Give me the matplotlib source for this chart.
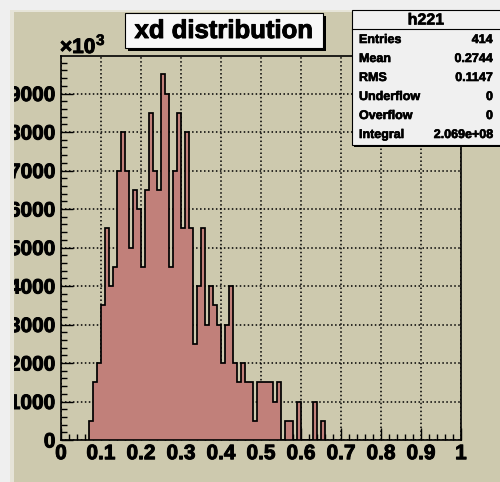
import numpy as np
import matplotlib
matplotlib.use("Agg")
import matplotlib.pyplot as plt
import matplotlib.patheffects as pe
from matplotlib.patches import Rectangle
from matplotlib.lines import Line2D
from matplotlib.ticker import MultipleLocator, FixedLocator, FixedFormatter

# h221 contents in units of 10^3, 0.01 wide bins starting at xd = 0.07
first_edge = 0.07
bin_width = 0.01
contents = [
    500, 1500, 2000, 3500, 5500, 4000, 4500, 7000, 8000, 7000,   # 0.07 - 0.16
    5000, 6500, 6000, 4500, 6500, 8500, 7000, 6500, 9500, 9000,  # 0.17 - 0.26
    4500, 7000, 8500, 5500, 8000, 5500, 2500, 4000, 5500, 3000,  # 0.27 - 0.36
    4000, 3500, 3000, 2000, 3000, 4000, 2000, 1500, 2000, 1500,  # 0.37 - 0.46
    1500, 500, 1500, 1500, 1500, 1500, 1000, 1500, 0, 500,       # 0.47 - 0.56
    500, 0, 1000, 0, 0, 0, 1000, 0, 500,                         # 0.57 - 0.65
]

x_ticks = [0, 0.1, 0.2, 0.3, 0.4, 0.5, 0.6, 0.7, 0.8, 0.9, 1.0]
x_tick_labels = ["0", "0.1", "0.2", "0.3", "0.4", "0.5", "0.6", "0.7", "0.8", "0.9", "1"]
y_ticks = [0, 1000, 2000, 3000, 4000, 5000, 6000, 7000, 8000, 9000]
y_tick_labels = ["0", "1000", "2000", "3000", "4000", "5000", "6000", "7000", "8000", "9000"]

title = "xd distribution"
stats_name = "h221"
stats_keys = ["Entries", "Mean", "RMS", "Underflow", "Overflow", "Integral"]
stats_vals = ["414", "0.2744", "0.1147", "0", "0", "2.069e+08"]

W, H = 500, 482
PAD = "#cdc9ae"
WINDOW = "#efefef"
FILL = "#c1807a"

plt.rcParams["font.family"] = ["Liberation Sans", "DejaVu Sans"]
plt.rcParams["font.weight"] = "bold"

# thicken glyphs a little, ROOT bold text is heavy
HEAVY = [pe.withStroke(linewidth=0.7, foreground="black")]
HEAVY_SMALL = [pe.withStroke(linewidth=0.45, foreground="black")]

fig = plt.figure(figsize=(W / 100, H / 100), dpi=100, facecolor=WINDOW)


def px_rect(x0, y0, x1, y1, **kw):
    # rectangle given in pixel coords measured from the top-left corner
    return Rectangle((x0 / W, 1 - y1 / H), (x1 - x0) / W, (y1 - y0) / H,
                     transform=fig.transFigure, **kw)


# canvas background
fig.add_artist(px_rect(10, 10, W, H, fc=PAD, ec="none", zorder=-5))

ax = fig.add_axes([61 / W, 42 / H, 400 / W, 384 / H])
ax.set_facecolor(PAD)

edges = first_edge + bin_width * np.arange(len(contents) + 1)
ax.stairs(contents, edges, fill=True, color=FILL, lw=0, zorder=2)
ax.stairs(contents, edges, color="black", lw=1.25, baseline=0, zorder=3)

ax.set_xlim(0, 1)
ax.set_ylim(0, max(contents) * 1.05)

ax.xaxis.set_major_locator(FixedLocator(x_ticks))
ax.xaxis.set_major_formatter(FixedFormatter(x_tick_labels))
ax.xaxis.set_minor_locator(MultipleLocator(0.02))
ax.yaxis.set_major_locator(FixedLocator(y_ticks))
ax.yaxis.set_major_formatter(FixedFormatter(y_tick_labels))
ax.yaxis.set_minor_locator(MultipleLocator(200))

ax.tick_params(which="both", direction="in", top=False, right=False,
               colors="black", labelsize=15, width=1.0)
ax.tick_params(which="major", length=8.5)
ax.tick_params(which="minor", length=4.3)
ax.tick_params(axis="x", pad=3)
ax.tick_params(axis="y", pad=4)
for lab in ax.get_xticklabels() + ax.get_yticklabels():
    lab.set_fontweight("bold")
    lab.set_path_effects(HEAVY)

ax.set_axisbelow(True)
ax.grid(True, which="major", color="black", lw=1.1, linestyle=(0, (1, 1.6)))
for sp in ax.spines.values():
    sp.set_linewidth(1.2)
    sp.set_color("black")

# axis multiplier
fig.text(60 / W, 1 - 53 / H, "\u00d710", fontsize=15, fontweight="bold",
         ha="left", va="baseline", path_effects=HEAVY)
fig.text(96 / W, 1 - 45 / H, "3", fontsize=11, fontweight="bold",
         ha="left", va="baseline", path_effects=HEAVY_SMALL)

# window strips on the left and top clip the tick labels
fig.add_artist(px_rect(0, 0, 10, H, fc=WINDOW, ec="none", zorder=5))
fig.add_artist(px_rect(0, 0, W, 10, fc=WINDOW, ec="none", zorder=5))
fig.add_artist(px_rect(10, 10, 14, H, fc="#e6e4d8", ec="none", zorder=5))
fig.add_artist(px_rect(10, 10, W, 12, fc="#e6e4d8", ec="none", zorder=5))

# title box with shadow
fig.add_artist(px_rect(128, 16, 326, 51, fc="black", ec="none", zorder=6))
fig.add_artist(px_rect(125, 13, 323, 48, fc="#f8f8f8", ec="black", lw=0.8, zorder=7))
fig.text(224 / W, 1 - 31 / H, title, fontsize=18.5, fontweight="bold",
         ha="center", va="center", zorder=8, path_effects=HEAVY)

# statistics box
fig.add_artist(px_rect(354, 12, W + 5, 147, fc="black", ec="none", zorder=6))
fig.add_artist(px_rect(352, 10, W + 5, 145, fc="#f0f0f0", ec="black", lw=0.8, zorder=7))
fig.add_artist(Line2D([352 / W, 1], [1 - 28.5 / H, 1 - 28.5 / H],
                      transform=fig.transFigure, color="black", lw=0.8, zorder=8))
fig.text(426 / W, 1 - 20 / H, stats_name, fontsize=11.5, fontweight="bold",
         ha="center", va="center", zorder=8, path_effects=HEAVY_SMALL)
for i, (k, v) in enumerate(zip(stats_keys, stats_vals)):
    y = 1 - (40 + 19 * i) / H
    fig.text(359 / W, y, k, fontsize=9, fontweight="bold", ha="left", va="center",
             zorder=8, path_effects=HEAVY_SMALL)
    fig.text(493 / W, y, v, fontsize=9, fontweight="bold", ha="right", va="center",
             zorder=8, path_effects=HEAVY_SMALL)

fig.savefig("out.png", dpi=100, facecolor=WINDOW)
